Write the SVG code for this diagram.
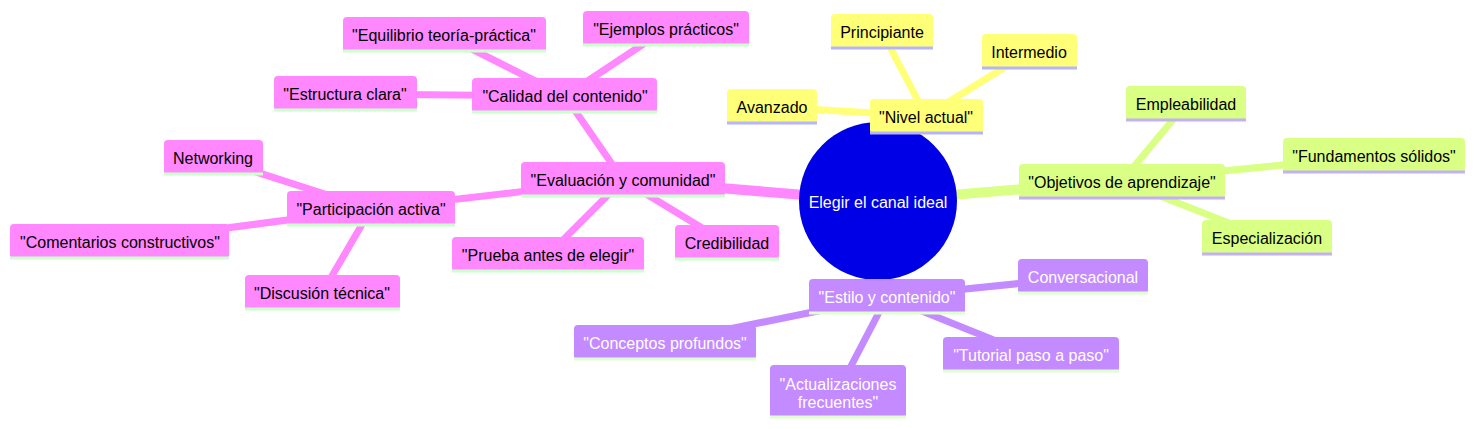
<svg xmlns="http://www.w3.org/2000/svg" width="1476" height="429" viewBox="0 0 1476 429">
<style>
text{font-family:"Liberation Sans",Arial,sans-serif;font-size:16px;text-anchor:middle;dominant-baseline:central}
.y rect{fill:#ffff78}.y line{stroke:#b4b4ff}
.g rect{fill:#d9ff85}.g line{stroke:#c4b0f5}
.p rect{fill:#ff88ff}.p line{stroke:#ccffcc}
.v rect{fill:#c48aff}.v line{stroke:#e0ffd0}.v text{fill:#fff}
line{stroke-width:3}
#edges line{stroke-linecap:round}
.ey{stroke:#ffff78}.eg{stroke:#d9ff85}.ep{stroke:#ff88ff}.ev{stroke:#c48aff}
.w1{stroke-width:10}.w2{stroke-width:7}
</style>
<g id="edges">
<line class="ey w1" x1="878" y1="201" x2="926" y2="116"/>
<line class="ey w2" x1="926" y1="116" x2="882" y2="32"/>
<line class="ey w2" x1="926" y1="116" x2="1029" y2="52"/>
<line class="ey w2" x1="926" y1="116" x2="772" y2="107"/>
<line class="eg w1" x1="878" y1="201" x2="1122" y2="181"/>
<line class="eg w2" x1="1122" y1="181" x2="1186" y2="104"/>
<line class="eg w2" x1="1122" y1="181" x2="1374" y2="156"/>
<line class="eg w2" x1="1122" y1="181" x2="1267" y2="238"/>
<line class="ev w1" x1="878" y1="201" x2="887" y2="297"/>
<line class="ev w2" x1="887" y1="297" x2="1083" y2="277"/>
<line class="ev w2" x1="887" y1="297" x2="665" y2="342"/>
<line class="ev w2" x1="887" y1="297" x2="838" y2="391"/>
<line class="ev w2" x1="887" y1="297" x2="1031" y2="355"/>
<line class="ep w1" x1="878" y1="201" x2="623" y2="180"/>
<line class="ep w2" x1="623" y1="180" x2="565" y2="96"/>
<line class="ep w2" x1="565" y1="96" x2="444" y2="35"/>
<line class="ep w2" x1="565" y1="96" x2="666" y2="29"/>
<line class="ep w2" x1="565" y1="96" x2="345" y2="94"/>
<line class="ep w2" x1="623" y1="180" x2="371" y2="209"/>
<line class="ep w2" x1="371" y1="209" x2="213" y2="158"/>
<line class="ep w2" x1="371" y1="209" x2="120" y2="242"/>
<line class="ep w2" x1="371" y1="209" x2="322" y2="293"/>
<line class="ep w2" x1="623" y1="180" x2="548" y2="255"/>
<line class="ep w2" x1="623" y1="180" x2="727" y2="243"/>
</g>
<g id="root"><circle cx="878" cy="201" r="79" fill="#0000e6"/><text x="878" y="202" fill="#fff">Elegir el canal ideal</text></g>
<g id="n-nivel" class="y"><rect x="870" y="99" width="113" height="35" rx="4"/><line x1="870" y1="133" x2="983" y2="133"/><text x="926" y="117">"Nivel actual"</text></g>
<g id="n-principiante" class="y"><rect x="831" y="14" width="102" height="35" rx="4"/><line x1="831" y1="48" x2="933" y2="48"/><text x="882" y="32">Principiante</text></g>
<g id="n-intermedio" class="y"><rect x="982" y="34" width="95" height="35" rx="4"/><line x1="982" y1="68" x2="1077" y2="68"/><text x="1029" y="52">Intermedio</text></g>
<g id="n-avanzado" class="y"><rect x="727" y="89" width="90" height="35" rx="4"/><line x1="727" y1="123" x2="817" y2="123"/><text x="772" y="107">Avanzado</text></g>
<g id="n-objetivos" class="g"><rect x="1019" y="164" width="206" height="35" rx="4"/><line x1="1019" y1="198" x2="1225" y2="198"/><text x="1122" y="182">"Objetivos de aprendizaje"</text></g>
<g id="n-empleabilidad" class="g"><rect x="1126" y="86" width="120" height="35" rx="4"/><line x1="1126" y1="120" x2="1246" y2="120"/><text x="1186" y="104">Empleabilidad</text></g>
<g id="n-fundamentos" class="g"><rect x="1283" y="138" width="182" height="35" rx="4"/><line x1="1283" y1="172" x2="1465" y2="172"/><text x="1374" y="156">"Fundamentos sólidos"</text></g>
<g id="n-especializacion" class="g"><rect x="1202" y="220" width="130" height="35" rx="4"/><line x1="1202" y1="254" x2="1332" y2="254"/><text x="1267" y="238">Especialización</text></g>
<g id="n-estilo" class="v"><rect x="809" y="279" width="156" height="35" rx="4"/><line x1="809" y1="313" x2="965" y2="313"/><text x="887" y="297">"Estilo y contenido"</text></g>
<g id="n-conversacional" class="v"><rect x="1018" y="259" width="130" height="35" rx="4"/><line x1="1018" y1="293" x2="1148" y2="293"/><text x="1083" y="277">Conversacional</text></g>
<g id="n-conceptos" class="v"><rect x="574" y="325" width="182" height="35" rx="4"/><line x1="574" y1="359" x2="756" y2="359"/><text x="665" y="343">"Conceptos profundos"</text></g>
<g id="n-actualizaciones" class="v"><rect x="770" y="365" width="136" height="53" rx="4"/><line x1="770" y1="417" x2="906" y2="417"/><text x="838" y="384">"Actualizaciones</text><text x="838" y="402">frecuentes"</text></g>
<g id="n-tutorial" class="v"><rect x="943" y="337" width="176" height="35" rx="4"/><line x1="943" y1="371" x2="1119" y2="371"/><text x="1031" y="355">"Tutorial paso a paso"</text></g>
<g id="n-evaluacion" class="p"><rect x="521" y="162" width="204" height="35" rx="4"/><line x1="521" y1="196" x2="725" y2="196"/><text x="623" y="180">"Evaluación y comunidad"</text></g>
<g id="n-calidad" class="p"><rect x="472" y="78" width="185" height="35" rx="4"/><line x1="472" y1="112" x2="657" y2="112"/><text x="565" y="96">"Calidad del contenido"</text></g>
<g id="n-equilibrio" class="p"><rect x="343" y="17" width="203" height="35" rx="4"/><line x1="343" y1="51" x2="546" y2="51"/><text x="444" y="35">"Equilibrio teoría-práctica"</text></g>
<g id="n-ejemplos" class="p"><rect x="583" y="11" width="166" height="35" rx="4"/><line x1="583" y1="45" x2="749" y2="45"/><text x="666" y="29">"Ejemplos prácticos"</text></g>
<g id="n-estructura" class="p"><rect x="274" y="76" width="143" height="35" rx="4"/><line x1="274" y1="110" x2="417" y2="110"/><text x="345" y="94">"Estructura clara"</text></g>
<g id="n-participacion" class="p"><rect x="287" y="191" width="168" height="35" rx="4"/><line x1="287" y1="225" x2="455" y2="225"/><text x="371" y="209">"Participación activa"</text></g>
<g id="n-networking" class="p"><rect x="164" y="140" width="99" height="35" rx="4"/><line x1="164" y1="174" x2="263" y2="174"/><text x="213" y="158">Networking</text></g>
<g id="n-comentarios" class="p"><rect x="10" y="224" width="219" height="35" rx="4"/><line x1="10" y1="258" x2="229" y2="258"/><text x="120" y="242">"Comentarios constructivos"</text></g>
<g id="n-discusion" class="p"><rect x="245" y="275" width="155" height="35" rx="4"/><line x1="245" y1="309" x2="400" y2="309"/><text x="322" y="293">"Discusión técnica"</text></g>
<g id="n-prueba" class="p"><rect x="452" y="237" width="192" height="35" rx="4"/><line x1="452" y1="271" x2="644" y2="271"/><text x="548" y="255">"Prueba antes de elegir"</text></g>
<g id="n-credibilidad" class="p"><rect x="675" y="225" width="104" height="35" rx="4"/><line x1="675" y1="259" x2="779" y2="259"/><text x="727" y="243">Credibilidad</text></g>
</svg>
